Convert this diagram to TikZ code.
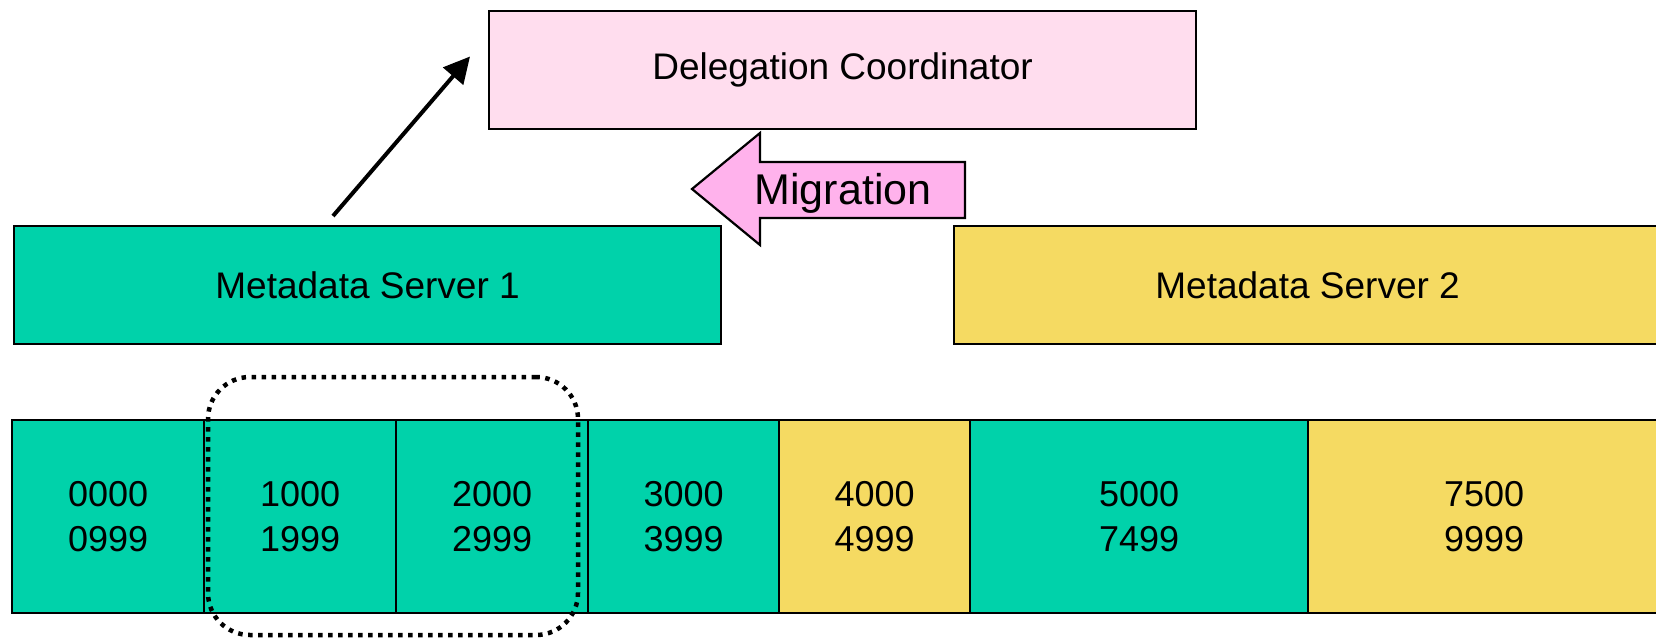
\documentclass[tikz,border=0pt]{standalone}
\usepackage{fontspec}
\setmainfont{Liberation Sans}
\usetikzlibrary{arrows.meta}
\definecolor{srvgreen}{RGB}{0,210,170}
\definecolor{srvyellow}{RGB}{245,218,98}
\definecolor{coordpink}{RGB}{255,221,238}
\definecolor{migpink}{RGB}{255,178,236}
\tikzset{
  box/.style={draw=black, line width=2.2pt, minimum width=707pt, minimum height=118pt,
    inner sep=0pt, anchor=north west, font=\fontsize{37}{44}\selectfont},
  cell/.style={draw=black, line width=2.2pt, minimum height=193pt, inner sep=0pt,
    anchor=north west, align=center, font=\fontsize{36}{45}\selectfont},
  selection/.style={draw=black, line width=4.5pt, dash pattern=on 4.5pt off 5.5pt,
    rounded corners=42pt, minimum width=370pt, minimum height=258pt, inner sep=0pt},
  link/.style={line width=4pt, -{Triangle[length=26pt,width=26pt]}},
}
\begin{document}
\begin{tikzpicture}[x=1pt,y=-1pt]
\useasboundingbox (0,0) rectangle (1656,637);

% servers and coordinator
\node[box, fill=coordpink] (dc) at (488,9.5) {\raisebox{-3pt}{Delegation Coordinator}};
\node[box, fill=srvgreen] (ms1) at (13,225) {Metadata Server 1};
\node[box, fill=srvyellow] (ms2) at (953,225) {Metadata Server 2};

% key-range partitions
\node[cell, fill=srvgreen, minimum width=192pt] (p0) at (11,419) {0000\\0999};
\node[cell, fill=srvgreen, minimum width=192pt] (p1) at (203,419) {1000\\1999};
\node[cell, fill=srvgreen, minimum width=192pt] (p2) at (395,419) {2000\\2999};
\node[cell, fill=srvgreen, minimum width=191pt] (p3) at (587,419) {3000\\3999};
\node[cell, fill=srvyellow, minimum width=191pt] (p4) at (778,419) {4000\\4999};
\node[cell, fill=srvgreen, minimum width=338pt] (p5) at (969,419) {5000\\7499};
\node[cell, fill=srvyellow, minimum width=352pt] (p6) at (1307,419) {7500\\9999};

% partitions selected for migration
\node[selection] (sel) at (393,506) {};

% request to the coordinator
\draw[link] ([xshift=320pt,yshift=9pt]ms1.north west) -- ([xshift=-18pt,yshift=-47pt]dc.north west);

% migration block arrow
\draw[fill=migpink, line width=2.2pt, line join=miter]
  (692,189) -- (760,133) -- (760,162) -- (965,162) -- (965,218) -- (760,218) -- (760,245) -- cycle;
\node[font=\fontsize{43}{50}\selectfont] (mig) at (843,193) {Migration};
\end{tikzpicture}
\end{document}
